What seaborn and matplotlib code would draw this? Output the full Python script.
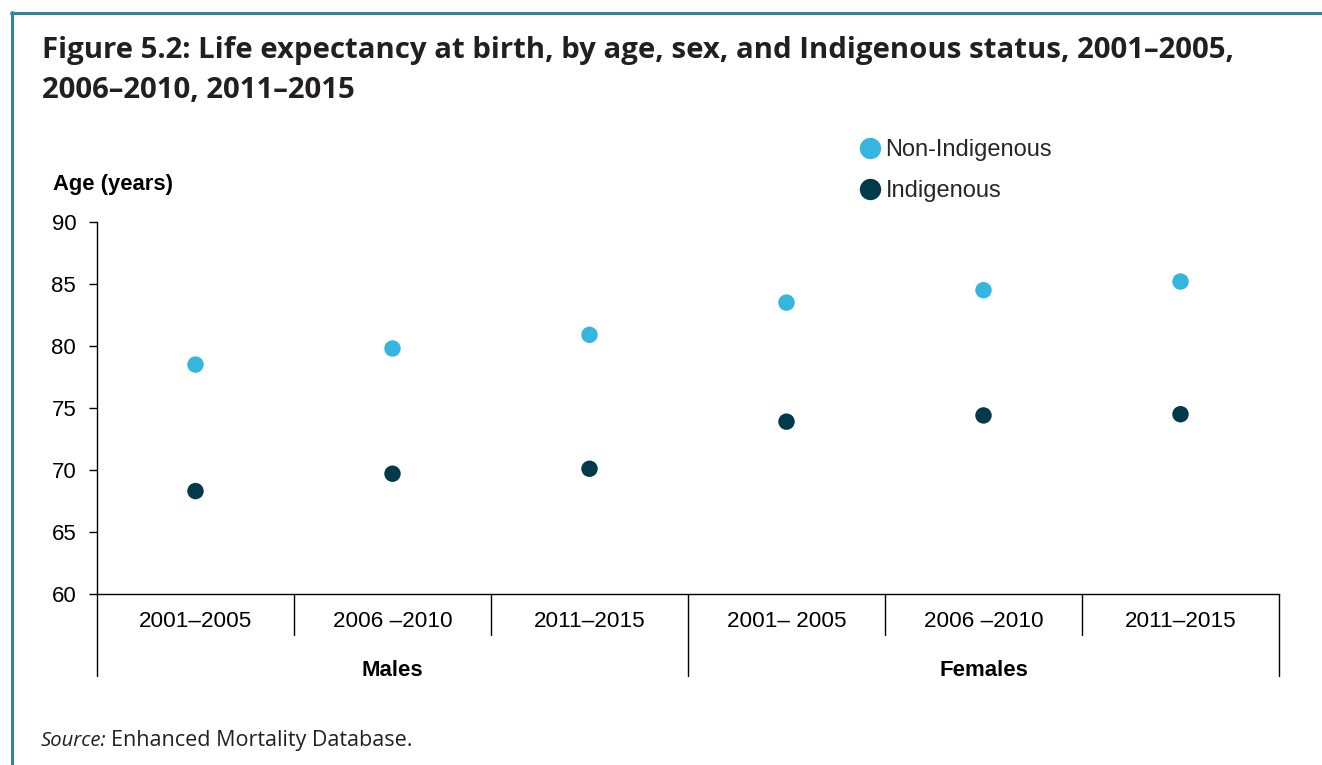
import numpy as np
import pandas as pd
import seaborn as sns
import matplotlib.pyplot as plt
from matplotlib.lines import Line2D
import matplotlib.transforms as mtransforms

# data
groups = ["Males", "Females"]
periods = ["2001–2005", "2006–2010", "2011–2015"]
period_labels = ["2001–2005", "2006 –2010", "2011–2015", "2001– 2005", "2006 –2010", "2011–2015"]
non_indigenous = [78.5, 79.8, 80.9, 83.5, 84.5, 85.2]
indigenous = [68.3, 69.7, 70.1, 73.9, 74.4, 74.5]
statuses = ["Non-Indigenous", "Indigenous"]
colors = ["#36b5df", "#023a4c"]

keys = [g + " " + p for g in groups for p in periods]
df = pd.DataFrame({
    "key": keys * 2,
    "age": non_indigenous + indigenous,
    "status": [statuses[0]] * len(keys) + [statuses[1]] * len(keys),
})

sns.set_theme(style="white")
plt.rcParams["font.family"] = ["Liberation Sans", "DejaVu Sans"]

W, H = 1322, 765
fig = plt.figure(figsize=(W / 100, H / 100), dpi=100)
ax = fig.add_axes([97 / W, 1 - 594 / H, (1279 - 97) / W, (594 - 222) / H])

sns.scatterplot(data=df, x="key", y="age", hue="status", hue_order=statuses,
                palette=colors, s=140, edgecolor="none", ax=ax)

ax.set_xlim(-0.5, len(keys) - 0.5)
ax.set_ylim(60, 90)
ax.set_yticks(range(60, 91, 5))
ax.set_xticks(range(len(keys)))
ax.set_xticklabels([])
ax.set_xlabel("")
ax.set_ylabel("")
ax.tick_params(axis="y", left=True, length=6, width=1, pad=9, labelsize=16,
               colors="black")
ax.tick_params(axis="x", bottom=False)
for s in ["top", "right"]:
    ax.spines[s].set_visible(False)
ax.spines["left"].set_color("black")
ax.spines["bottom"].set_color("black")
ax.spines["left"].set_linewidth(1)
ax.spines["bottom"].set_linewidth(1)

# category separators, labels and group labels under the axis
trans = mtransforms.blended_transform_factory(ax.transData, ax.transAxes)
n = len(periods)
for i in range(len(keys) + 1):
    x = i - 0.5
    bottom = -0.22 if i % n == 0 else -0.11
    ax.add_line(Line2D([x, x], [0, bottom], color="black", lw=1,
                       transform=trans, clip_on=False))
for i, lab in enumerate(period_labels):
    ax.text(i, -0.075, lab, transform=trans, ha="center", va="center",
            fontsize=16.2, color="black")
for j, g in enumerate(groups):
    ax.text(j * n + (n - 1) / 2, -0.205, g, transform=trans, ha="center",
            va="center", fontsize=16, fontweight="bold", color="black")

# legend
sns.move_legend(ax, loc="upper left", bbox_to_anchor=(850 / W, 1 - 130 / H),
                bbox_transform=fig.transFigure, frameon=False, title=None,
                fontsize=17, markerscale=1.3, handlelength=0.9,
                handletextpad=0.2, labelspacing=0.8, borderaxespad=0)

# axis title
fig.text(53 / W, 1 - 190 / H, "Age (years)", fontsize=15.8, fontweight="bold",
         va="baseline", ha="left", color="black")

# figure title and source
fig.text(42 / W, 1 - 58 / H, "Figure 5.2: Life expectancy at birth, by age, sex, and Indigenous status, 2001–2005,",
         fontsize=21.2, fontweight="bold", family="Open Sans", color="#231f20",
         va="baseline", ha="left")
fig.text(42 / W, 1 - 98 / H, "2006–2010, 2011–2015",
         fontsize=21.2, fontweight="bold", family="Open Sans", color="#231f20",
         va="baseline", ha="left")
fig.text(41 / W, 1 - 746 / H, "Source:", fontsize=14.6, style="italic",
         family="Open Sans", color="#231f20", va="baseline", ha="left")
fig.text(111 / W, 1 - 746 / H, "Enhanced Mortality Database.", fontsize=15.5,
         family="Open Sans", color="#231f20", va="baseline", ha="left")

# frame lines
border = "#2b88a3"
fig.add_artist(Line2D([11 / W, 1], [1 - 12.5 / H, 1 - 12.5 / H], color=border,
                      lw=2.2, transform=fig.transFigure))
fig.add_artist(Line2D([11.5 / W, 11.5 / W], [0, 1 - 11.5 / H], color=border,
                      lw=2.2, transform=fig.transFigure))

fig.savefig("out.png", dpi=100)
